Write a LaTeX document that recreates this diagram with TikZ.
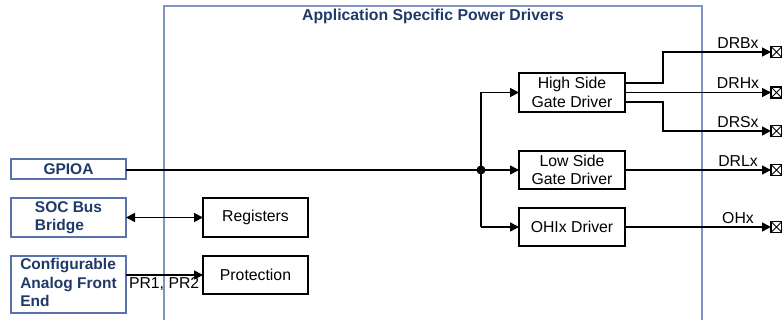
\documentclass[tikz,border=0pt]{standalone}
\usepackage{fontspec}
\setmainfont{Liberation Sans}
\usetikzlibrary{arrows.meta}
\definecolor{navy}{HTML}{1F3A68}
\definecolor{frameblue}{HTML}{7F93C4}
\definecolor{boxblue}{HTML}{5A73AC}
\begin{document}
\begin{tikzpicture}[x=1pt,y=-1pt,
  every node/.style={inner sep=0pt,outer sep=0pt},
  txt/.style={font=\fontsize{15.8}{18.3}\selectfont},
  blk/.style={draw=black,line width=1.5pt,fill=white,txt,align=center,minimum width=106pt},
  ext/.style={draw=boxblue,line width=1.6pt,fill=white,minimum width=115pt,text=navy,
    font=\fontsize{15.5}{18.3}\selectfont\bfseries,align=left},
  term/.style={draw=black,line width=1.4pt,minimum width=11pt,minimum height=11pt,
    path picture={\draw[line width=1pt] (path picture bounding box.north west)--(path picture bounding box.south east)
      (path picture bounding box.south west)--(path picture bounding box.north east);}},
  wire/.style={line width=1.6pt},
  tip/.tip={Triangle[length=9pt,width=9pt]},
  arr/.style={wire,-tip},
  lbl/.style={txt,anchor=south}]
\useasboundingbox (0,0) rectangle (782,320);
\begin{scope}
\clip (0,0) rectangle (782,320);
\draw[frameblue,line width=1.8pt] (164,330) -- (164,6) -- (702,6) -- (702,330);
\end{scope}
\node[text=navy,font=\fontsize{15.8}{18}\selectfont\bfseries] (title) at (433,16) {Application Specific Power Drivers};

\node[ext,minimum height=20pt] (gpioa) at (68.5,169) {GPIOA};
\node[ext,minimum height=39pt] (soc) at (68.5,217.5) {\begin{tabular}{@{}l@{}}SOC Bus\\Bridge\end{tabular}};
\node[ext,minimum height=57pt] (cafe) at (68.5,284.5) {\begin{tabular}{@{}l@{}}Configurable\\Analog Front\\End\end{tabular}};

\node[blk,minimum width=105pt,minimum height=39pt] (reg) at (255.5,217.5) {Registers};
\node[blk,minimum width=105pt,minimum height=38pt] (prot) at (255.5,275) {Protection};

\node[blk,minimum height=39pt] (hs) at (572,92.5) {High Side\\Gate Driver};
\node[blk,minimum height=38pt] (ls) at (572,170) {Low Side\\Gate Driver};
\node[blk,minimum height=38pt] (oh) at (572,227) {OHIx Driver};

\coordinate (j) at (481,170);
\fill (j) circle (4.5pt);
\draw[wire] (gpioa.east |- j) -- (j);
\draw[wire] (j |- hs) -- (j |- oh);
\draw[arr] (j |- hs) -- (hs.west);
\draw[arr] (j) -- (ls.west);
\draw[arr] (j |- oh) -- (oh.west);

\draw[wire,tip-tip] (soc.east |- reg) -- (reg.west);
\draw[arr] (cafe.east |- prot) -- (prot.west);
\node[txt,anchor=north west] (pr) at (129,277) {PR1, PR2};

\node[term] (tb) at (776.5,52) {};
\node[term] (th) at (776.5,92.5) {};
\node[term] (ts) at (776.5,131) {};
\node[term] (tl) at (776.5,170) {};
\node[term] (to) at (776.5,227) {};

\draw[arr] (hs.east |- 0,83) -- (663,83) -- (663,52) -- (tb.west);
\draw[arr] (hs.east |- th) -- (th.west);
\draw[arr] (hs.east |- 0,102) -- (663,102) -- (663,131) -- (ts.west);
\draw[arr] (ls.east) -- (tl.west);
\draw[arr] (oh.east) -- (to.west);

\node[lbl] (lb) at (738,49) {DRBx};
\node[lbl] (lh) at (738,89) {DRHx};
\node[lbl] (ls2) at (738,128) {DRSx};
\node[lbl] (ll) at (738,167) {DRLx};
\node[lbl] (lo) at (738,224) {OHx};
\end{tikzpicture}
\end{document}
